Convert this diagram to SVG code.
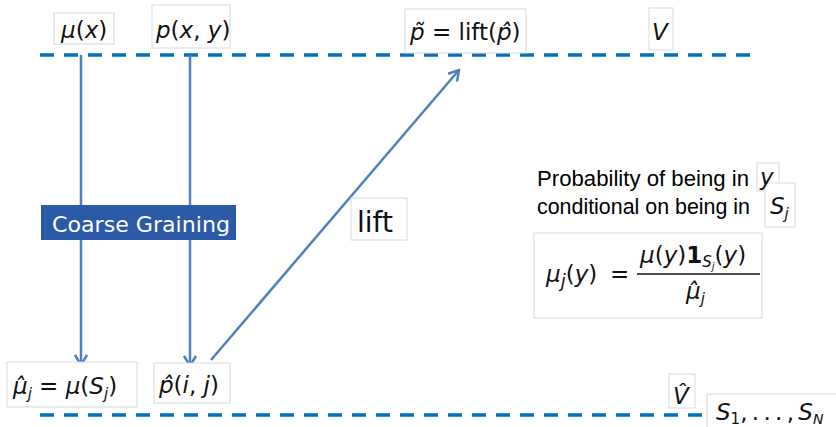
<svg xmlns="http://www.w3.org/2000/svg" width="836" height="427" viewBox="0 0 836 427">
<style>
.lbl{fill:#fff;stroke:#d9d9d9;stroke-width:1}
.m{font-family:"DejaVu Sans","Noto Sans",sans-serif;font-size:23px;fill:#111}
.i{font-style:italic}
.sub{font-size:15px}
.lvl{stroke:#0070C0;stroke-width:3.5;stroke-dasharray:14 10;fill:none}
.arr{stroke:#4F81BD;stroke-width:2.5;fill:none;marker-end:url(#ah)}
.t{font-family:"Liberation Sans","Noto Sans",sans-serif;font-size:22px;fill:#000}
</style>
<defs>
<marker id="ah" viewBox="0 0 14 14" refX="12" refY="7" markerWidth="14" markerHeight="14" markerUnits="userSpaceOnUse" orient="auto">
<path d="M2,1 L12,7 L2,13" fill="none" stroke="#4F81BD" stroke-width="2.5"/>
</marker>
</defs>
<rect width="836" height="427" fill="#fff"/>
<g id="levels">
<line class="lvl" x1="40" y1="55" x2="752" y2="55"/>
<line class="lvl" x1="40" y1="415" x2="708" y2="415"/>
</g>
<g id="connectors">
<line class="arr" x1="81" y1="55" x2="81" y2="365"/>
<line class="arr" x1="190" y1="55" x2="190" y2="366"/>
<line class="arr" x1="211" y1="360" x2="459" y2="70"/>
</g>
<g id="mu-x">
<rect class="lbl" x="54" y="13" width="60" height="31"/>
<text class="m" x="61" y="38" font-size="24"><tspan class="i">μ</tspan>(<tspan class="i">x</tspan>)</text>
</g>
<g id="p-xy">
<rect class="lbl" x="152" y="5" width="78" height="43"/>
<text class="m" x="156" y="38" font-size="24"><tspan class="i">p</tspan>(<tspan class="i">x</tspan>, <tspan class="i">y</tspan>)</text>
</g>
<g id="p-tilde">
<rect class="lbl" x="405" y="9" width="121" height="44"/>
<text class="m" x="410" y="40" font-size="24"><tspan class="i">p̃</tspan> = lift(<tspan class="i">p̂</tspan>)</text>
</g>
<g id="V">
<rect class="lbl" x="649" y="8" width="24" height="42"/>
<text class="m i" x="652" y="40" font-size="24">V</text>
</g>
<g id="coarse-graining">
<rect x="41" y="205" width="195" height="35" fill="#2B5BA8"/>
<text x="52" y="232" font-family="DejaVu Sans,Noto Sans,sans-serif" font-size="22" fill="#fff" textLength="178" lengthAdjust="spacingAndGlyphs">Coarse Graining</text>
</g>
<g id="lift">
<rect class="lbl" x="351" y="198" width="56" height="42"/>
<text x="357" y="232" font-family="DejaVu Sans,Noto Sans,sans-serif" font-size="28" fill="#111">lift</text>
</g>
<g id="mu-hat-j">
<rect class="lbl" x="7" y="362" width="130" height="45"/>
<text class="m" x="13" y="394" font-size="24"><tspan class="i">μ̂</tspan><tspan class="i sub" dy="5">j</tspan><tspan dy="-5"> = </tspan><tspan class="i">μ</tspan>(<tspan class="i">S</tspan><tspan class="i sub" dy="5">j</tspan><tspan dy="-5">)</tspan></text>
</g>
<g id="p-hat-ij">
<rect class="lbl" x="154" y="363" width="76" height="40"/>
<text class="m" x="159" y="393" font-size="24"><tspan class="i">p̂</tspan>(<tspan class="i">i</tspan>, <tspan class="i">j</tspan>)</text>
</g>
<g id="V-hat">
<rect class="lbl" x="669" y="374" width="26" height="34"/>
<text class="m i" x="673" y="404" font-size="24">V̂</text>
</g>
<g id="S-list">
<path d="M707,427 V394 H836" fill="#fff" stroke="#d9d9d9" stroke-width="1"/>
<text class="m" x="716" y="420" font-size="22"><tspan class="i">S</tspan><tspan class="sub" font-size="14" dy="4">1</tspan><tspan dy="-4" letter-spacing="-1.5">, . . . , </tspan><tspan class="i">S</tspan><tspan class="i" font-size="14" dy="4">N</tspan></text>
</g>
<g id="note">
<rect class="lbl" x="757" y="163" width="22" height="28"/>
<rect class="lbl" x="765" y="183" width="30" height="44"/>
<text class="t" x="537" y="186" textLength="212" lengthAdjust="spacingAndGlyphs">Probability of being in</text>
<text class="t" x="537" y="214" textLength="213" lengthAdjust="spacingAndGlyphs">conditional on being in</text>
<text class="m i" x="760" y="185" font-size="24">y</text>
<text class="m" x="770" y="214" font-size="24"><tspan class="i">S</tspan><tspan class="i sub" dy="5">j</tspan></text>
</g>
<g id="formula">
<rect class="lbl" x="534" y="233" width="228" height="85"/>
<text class="m" x="546" y="282" font-size="29"><tspan class="i">μ</tspan><tspan class="i" font-size="18" dy="5">j</tspan><tspan dy="-5">(</tspan><tspan class="i">y</tspan>)</text>
<text class="m" x="610" y="282" font-size="28">=</text>
<line x1="637" y1="274" x2="760" y2="274" stroke="#111" stroke-width="1.3"/>
<text class="m" x="640" y="263" font-size="24"><tspan class="i">μ</tspan>(<tspan class="i">y</tspan>)<tspan font-weight="bold">1</tspan><tspan class="i sub" dy="4">S</tspan><tspan class="i" font-size="10" dy="3">j</tspan><tspan dy="-7">(</tspan><tspan class="i">y</tspan>)</text>
<text class="m" x="686" y="299" font-size="24"><tspan class="i">μ̂</tspan><tspan class="i sub" dy="5">j</tspan></text>
</g>
</svg>
